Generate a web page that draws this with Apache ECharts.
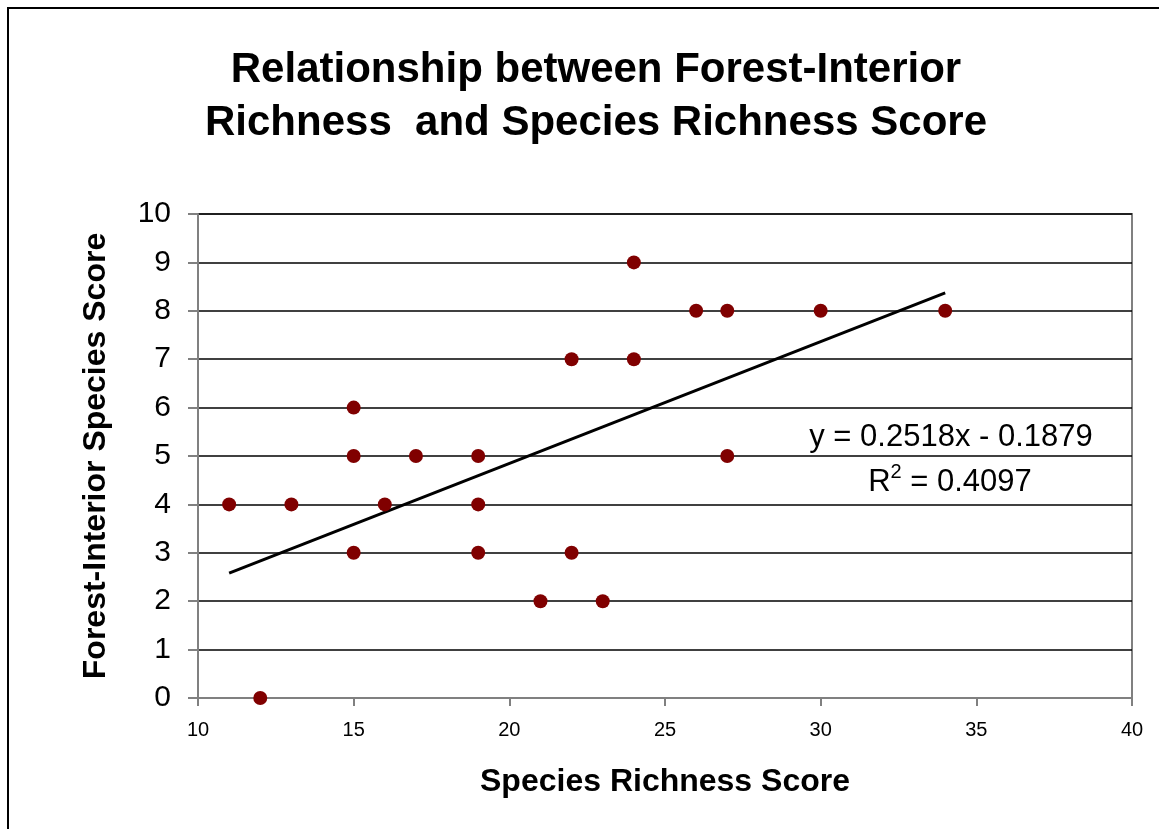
<!DOCTYPE html>
<html>
<head>
<meta charset="utf-8">
<script src="https://cdn.jsdelivr.net/npm/echarts@6/dist/echarts.min.js"></script>
<style>
  html, body { margin: 0; padding: 0; background: #fff; }
  #chart { width: 1159px; height: 829px; }
</style>
</head>
<body>
<div id="chart"></div>
<script>
// 散点数据：物种丰富度得分 vs 森林内部物种得分
const richnessX = [11, 12, 13, 15, 15, 15, 16, 17, 19, 19, 19, 21, 22, 22, 23, 24, 24, 26, 27, 27, 30, 34];
const interiorY = [4, 0, 4, 6, 5, 3, 4, 5, 5, 4, 3, 2, 7, 3, 2, 9, 7, 8, 8, 5, 8, 8];

// 趋势线端点
const trendX = [11, 34];
const trendY = [2.58, 8.37];

const xTicks = [10, 15, 20, 25, 30, 35, 40];
const yTicks = [0, 1, 2, 3, 4, 5, 6, 7, 8, 9, 10];

const FONT = "'Liberation Sans', Arial, sans-serif";

const chart = echarts.init(document.getElementById('chart'));

const points = richnessX.map((x, i) => [x, interiorY[i]]);
const trend = trendX.map((x, i) => [x, trendY[i]]);

const option = {
    animation: false,
    backgroundColor: '#fff',
    title: {
        text: 'Relationship between Forest-Interior\nRichness  and Species Richness Score',
        left: 591,
        top: 39,
        textAlign: 'center',
        textStyle: {
            fontFamily: FONT,
            fontSize: 42,
            fontWeight: 'bold',
            color: '#000',
            lineHeight: 53
        }
    },
    grid: {
        left: 198,
        right: 27,
        top: 214,
        bottom: 131,
        show: true,
        borderColor: '#808080',
        borderWidth: 2,
        containLabel: false
    },
    xAxis: {
        type: 'value',
        min: xTicks[0],
        max: xTicks[xTicks.length - 1],
        interval: 5,
        name: 'Species Richness Score',
        nameLocation: 'middle',
        nameGap: 68,
        nameTextStyle: { fontFamily: FONT, fontSize: 32, fontWeight: 'bold', color: '#000' },
        axisLine: { show: true, onZero: false, lineStyle: { color: '#808080', width: 2 } },
        axisTick: { show: true, inside: false, length: 8, lineStyle: { color: '#808080', width: 2 } },
        axisLabel: { fontFamily: FONT, fontSize: 20, color: '#000', margin: 22 },
        splitLine: { show: false }
    },
    yAxis: {
        type: 'value',
        min: yTicks[0],
        max: yTicks[yTicks.length - 1],
        interval: 1,
        name: 'Forest-Interior Species Score',
        nameLocation: 'middle',
        nameGap: 86,
        nameTextStyle: { fontFamily: FONT, fontSize: 32, fontWeight: 'bold', color: '#000' },
        axisLine: { show: true, onZero: false, lineStyle: { color: '#808080', width: 2 } },
        axisTick: { show: true, inside: false, length: 10, lineStyle: { color: '#808080', width: 2 } },
        axisLabel: { fontFamily: FONT, fontSize: 30, color: '#000', margin: 27 },
        splitLine: { show: true, lineStyle: { color: '#000', width: 1.5 } }
    },
    graphic: [
        {
            type: 'rect',
            silent: true,
            shape: { x: 8, y: 8, width: 1300, height: 1000 },
            style: { fill: 'none', stroke: '#000', lineWidth: 2 },
            z: -1
        },
        {
            type: 'text',
            z: 100,
            style: {
                x: 951,
                y: 437,
                text: 'y = 0.2518x - 0.1879',
                font: '31px ' + FONT,
                fill: '#000',
                align: 'center',
                verticalAlign: 'middle'
            }
        },
        {
            type: 'text',
            z: 100,
            style: {
                x: 950,
                y: 480,
                text: '{r|R}{s|2}{r| = 0.4097}',
                align: 'center',
                verticalAlign: 'middle',
                rich: {
                    r: { fontFamily: FONT, fontSize: 31, color: '#000', lineHeight: 36, verticalAlign: 'bottom' },
                    s: { fontFamily: FONT, fontSize: 20, color: '#000', lineHeight: 36, verticalAlign: 'top', padding: [0, 0, 10, 0] }
                }
            }
        }
    ],
    series: [
        {
            name: 'Trend',
            type: 'line',
            data: trend,
            symbol: 'none',
            lineStyle: { color: '#000', width: 3 },
            z: 3
        },
        {
            name: 'Scores',
            type: 'scatter',
            data: points,
            symbol: 'circle',
            symbolSize: 14,
            itemStyle: { color: '#800000', opacity: 1 },
            z: 4
        }
    ]
};

chart.setOption(option);
</script>
</body>
</html>
